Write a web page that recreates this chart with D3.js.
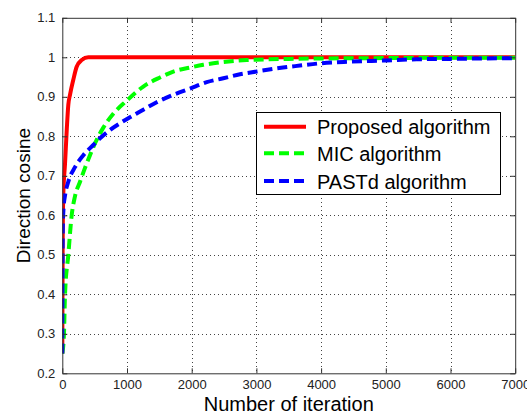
<!DOCTYPE html>
<html>
<head>
<meta charset="utf-8">
<script src="https://cdn.jsdelivr.net/npm/d3@7"></script>
<style>
  html, body { margin: 0; padding: 0; background: #fff; }
  svg { display: block; font-family: Arial, "Liberation Sans", sans-serif; }
</style>
</head>
<body>
<svg id="chart" width="527" height="414"></svg>
<script>
// Convergence of the direction cosine for three subspace trackers
const xTicks = [0, 1000, 2000, 3000, 4000, 5000, 6000, 7000];
const yTicks = [0.2, 0.3, 0.4, 0.5, 0.6, 0.7, 0.8, 0.9, 1.0, 1.1];
const yTickLabels = ["0.2", "0.3", "0.4", "0.5", "0.6", "0.7", "0.8", "0.9", "1", "1.1"];

const seriesNames = ["Proposed algorithm", "MIC algorithm", "PASTd algorithm"];
const seriesColors = ["#ff0000", "#00ff00", "#0000ff"];

const proposedIter = [0, 5, 15, 42, 70, 93, 119, 170, 222, 300, 402, 7000];
const proposedVal  = [0.25, 0.5, 0.65, 0.73, 0.82, 0.88, 0.905, 0.943, 0.976, 0.993, 1.0, 1.0];

const micIter = [0, 26, 42, 93, 145, 196, 274, 351, 428, 505, 634, 788, 995, 1252, 1510, 1716, 1974, 2180, 2437, 2850, 3500, 4000, 5000, 6000, 7000];
const micVal  = [0.25, 0.3, 0.4, 0.5, 0.6, 0.648, 0.685, 0.72, 0.752, 0.782, 0.822, 0.857, 0.89, 0.926, 0.949, 0.964, 0.974, 0.981, 0.987, 0.993, 0.996, 0.997, 0.998, 0.999, 0.999];

const pastdIter = [0, 3, 8, 20, 42, 93, 196, 325, 479, 583, 737, 892, 1046, 1175, 1459, 1716, 1974, 2232, 2489, 2747, 3005, 3410, 3673, 4000, 4446, 5000, 5478, 6000, 6500, 7000];
const pastdVal  = [0.25, 0.45, 0.57, 0.62, 0.65, 0.685, 0.722, 0.752, 0.778, 0.795, 0.816, 0.833, 0.848, 0.86, 0.886, 0.905, 0.921, 0.937, 0.947, 0.957, 0.964, 0.974, 0.979, 0.985, 0.989, 0.992, 0.995, 0.996, 0.997, 0.998];

const series = [
  { name: seriesNames[0], color: seriesColors[0], dash: null, iter: proposedIter, val: proposedVal },
  { name: seriesNames[1], color: seriesColors[1], dash: "10,5", iter: micIter, val: micVal },
  { name: seriesNames[2], color: seriesColors[2], dash: "10,5", iter: pastdIter, val: pastdVal }
];

const svg = d3.select("#chart");
const plot = { left: 62.3, right: 515.2, top: 17.8, bottom: 373.3 };

const x = d3.scaleLinear().domain([0, 7000]).range([plot.left, plot.right]);
const y = d3.scaleLinear().domain([0.2, 1.1]).range([plot.bottom, plot.top]);

// dotted grid
const grid = svg.append("g").attr("stroke", "#444").attr("stroke-width", 1)
  .attr("stroke-dasharray", "1,3").attr("shape-rendering", "crispEdges");
grid.selectAll("line.gx").data(xTicks.slice(1, -1)).join("line")
  .attr("x1", d => Math.round(x(d)) + 0.5).attr("x2", d => Math.round(x(d)) + 0.5)
  .attr("y1", plot.top).attr("y2", plot.bottom);
grid.selectAll("line.gy").data(yTicks.slice(1, -1)).join("line")
  .attr("y1", d => Math.round(y(d)) + 0.5).attr("y2", d => Math.round(y(d)) + 0.5)
  .attr("x1", plot.left).attr("x2", plot.right);

// curves
svg.append("clipPath").attr("id", "clip").append("rect")
  .attr("x", plot.left).attr("y", plot.top)
  .attr("width", plot.right - plot.left).attr("height", plot.bottom - plot.top);

const line = d3.line().x(d => x(d[0])).y(d => y(d[1])).curve(d3.curveMonotoneX);
const curves = svg.append("g").attr("clip-path", "url(#clip)");
series.forEach(s => {
  curves.append("path")
    .datum(s.iter.map((it, i) => [it, s.val[i]]))
    .attr("d", line)
    .attr("fill", "none")
    .attr("stroke", s.color)
    .attr("stroke-width", 4)
    .attr("stroke-dasharray", s.dash);
});

// axes with inward ticks on all four sides
const axisColor = "#333";
const bottomAxis = d3.axisBottom(x).tickValues(xTicks).tickFormat(d3.format("d"))
  .tickSizeInner(-5).tickSizeOuter(0).tickPadding(6.5);
const leftAxis = d3.axisLeft(y).tickValues(yTicks).tickFormat((d, i) => yTickLabels[i])
  .tickSizeInner(-5).tickSizeOuter(0).tickPadding(7);
const topAxis = d3.axisTop(x).tickValues(xTicks).tickSizeInner(-5).tickSizeOuter(0).tickFormat("");
const rightAxis = d3.axisRight(y).tickValues(yTicks).tickSizeInner(-5).tickSizeOuter(0).tickFormat("");

function styleAxis(g) {
  g.select(".domain").attr("stroke", axisColor);
  g.selectAll(".tick line").attr("stroke", axisColor);
  g.selectAll(".tick text").attr("fill", "#222").attr("font-size", 13)
    .attr("font-family", "Arial, 'Liberation Sans', sans-serif");
}
svg.append("g").attr("transform", `translate(0,${plot.bottom})`).call(bottomAxis).call(styleAxis);
svg.append("g").attr("transform", `translate(${plot.left},0)`).call(leftAxis).call(styleAxis);
svg.append("g").attr("transform", `translate(0,${plot.top})`).call(topAxis).call(styleAxis);
svg.append("g").attr("transform", `translate(${plot.right},0)`).call(rightAxis).call(styleAxis);

// axis titles
svg.append("text").attr("x", (plot.left + plot.right) / 2).attr("y", 411)
  .attr("text-anchor", "middle").attr("font-size", 20).attr("fill", "#000")
  .text("Number of iteration");
svg.append("text").attr("transform", `translate(30,${(plot.top + plot.bottom) / 2}) rotate(-90)`)
  .attr("text-anchor", "middle").attr("font-size", 19).attr("fill", "#000")
  .text("Direction cosine");

// legend
const legend = svg.append("g");
legend.append("rect").attr("x", 256.5).attr("y", 112.5).attr("width", 244).attr("height", 82)
  .attr("fill", "#fff").attr("stroke", "#000").attr("stroke-width", 1);
const rowY = [126.7, 153.3, 181];
series.forEach((s, i) => {
  legend.append("line").attr("x1", 264).attr("x2", 306).attr("y1", rowY[i]).attr("y2", rowY[i])
    .attr("stroke", s.color).attr("stroke-width", 4).attr("stroke-dasharray", s.dash);
  legend.append("text").attr("x", 317).attr("y", rowY[i] + 7.5).attr("font-size", 20)
    .attr("fill", "#000").text(s.name);
});
</script>
</body>
</html>
